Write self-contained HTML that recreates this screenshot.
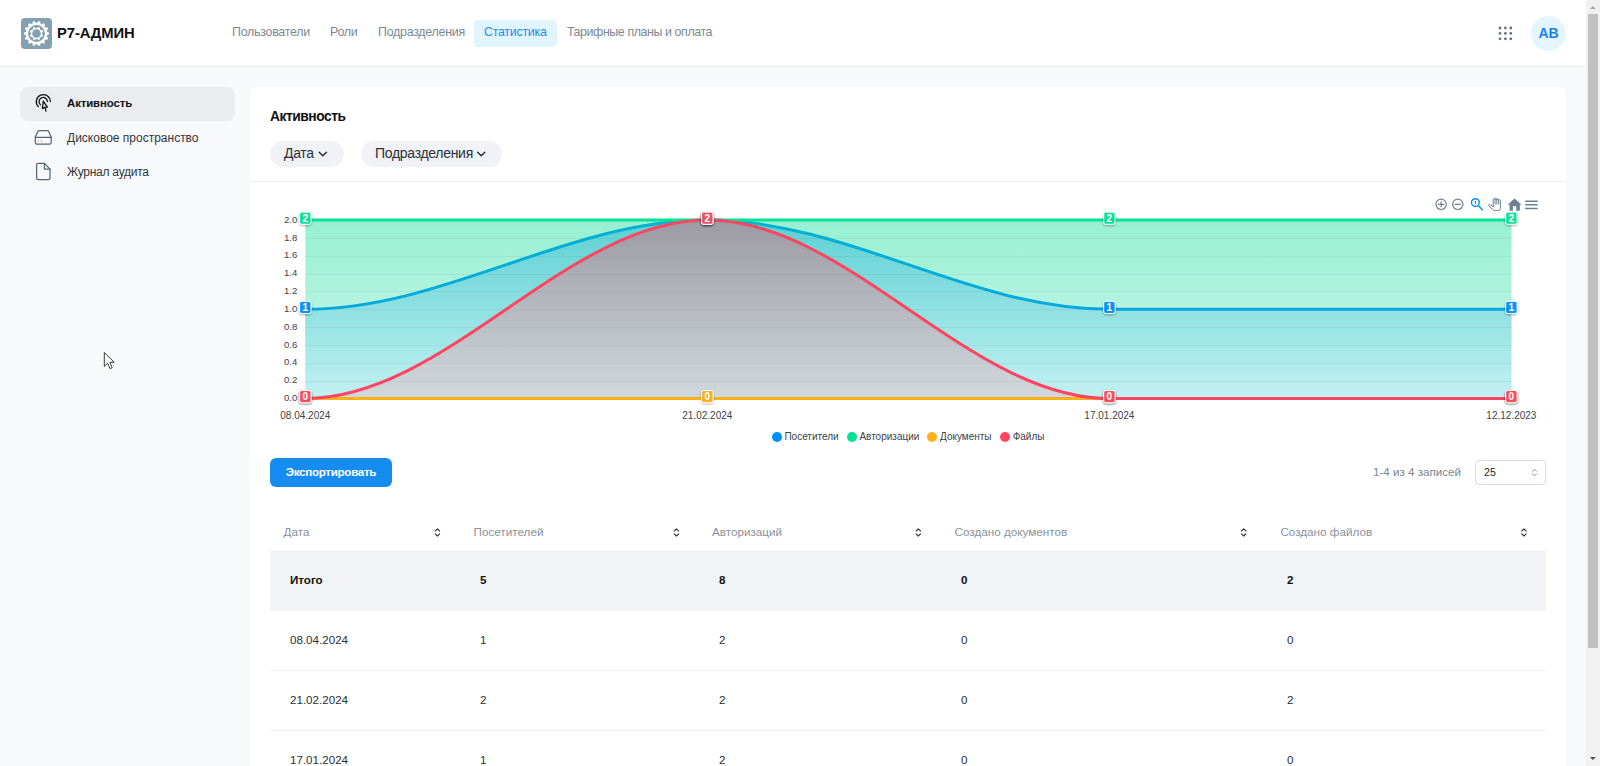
<!DOCTYPE html>
<html lang="ru">
<head>
<meta charset="utf-8">
<title>Р7-Админ — Статистика</title>
<style>
*{box-sizing:border-box;margin:0;padding:0}
html,body{width:1600px;height:766px;overflow:hidden}
body{font-family:"Liberation Sans",sans-serif;background:#f8f9fb;color:#1f2329;position:relative}
.abs{position:absolute}
.t{position:absolute;white-space:nowrap;line-height:1}
/* header */
#hdr{position:absolute;left:0;top:0;width:1586px;height:67px;background:#fff;border-bottom:1px solid #e8eaee}
#logo{left:21px;top:18px;width:31px;height:31px;background:#84a0b1;border-radius:4px}
#logo svg{display:block}
#brand{left:57px;top:26px;font-size:14.8px;font-weight:700;color:#111;letter-spacing:-0.1px}
.nav{top:26px;font-size:12.4px;color:#7d8792;letter-spacing:-0.25px}
#navact{left:473.5px;top:20px;width:83.5px;height:27px;background:#e1f5fd;border-radius:4px}
#grid9{left:1498px;top:26px;width:16px;height:16px}
#avatar{left:1531px;top:16px;width:35px;height:35px;border-radius:50%;background:#e4f5fd;color:#1283ea;font-weight:700;font-size:14px;text-align:center;line-height:35px}
/* sidebar */
#sact{left:20px;top:87px;width:215px;height:34px;background:#ebecef;border-radius:8px}
.side{left:67px;font-size:12px;color:#31363d;letter-spacing:-0.1px}
/* card */
#card{left:250px;top:87px;width:1316px;height:700px;background:#fff;border-radius:8px}
#title{left:270px;top:110px;font-size:13.8px;font-weight:700;color:#111;letter-spacing:-0.45px}
.pill{position:absolute;top:141px;height:26px;border-radius:13px;background:#f0f2f5}
.ptxt{top:146px;font-size:14px;color:#2b3038;letter-spacing:-0.3px}
#divider{left:250px;top:181px;width:1316px;height:1px;background:#eceef1}
.leg{top:432px;font-size:10px;color:#3d4349}
#exp{left:270px;top:458px;width:122px;height:29px;background:#178cf0;border-radius:6px;color:#fff;font-weight:700;font-size:11.6px;line-height:28px;text-align:center;letter-spacing:-0.3px}
#pginfo{left:1373px;top:466px;font-size:11.6px;color:#7b848e}
#pgsel{left:1475px;top:460px;width:71px;height:25px;border:1px solid #d5dbe1;border-radius:4px;background:#fff;font-size:11px;color:#1f2329}
#pgsel span{position:absolute;left:8px;top:6px;line-height:1;font-size:10.6px}
.th{top:526px;font-size:11.7px;color:#8a929b}
.td{font-size:11.6px;color:#2a2f36}
.td.b{font-weight:700;color:#111}
.rowb{left:270px;width:1276px;height:1px;background:#eef0f3}
/* scrollbar */
#sb{left:1586px;top:0;width:14px;height:766px;background:#f1f1f1}
#sbthumb{left:1588px;top:14px;width:10px;height:634px;background:#c1c1c1}
</style>
</head>
<body>
<div id="hdr"></div>
<div class="abs" id="logo">
<svg width="31" height="31" viewBox="0 0 31 31">
 <path fill="#fff" d="M28.00,15.50 L27.99,15.78 L27.97,16.06 L27.92,16.34 L27.71,16.60 L27.03,16.80 L26.34,16.97 L26.12,17.18 L26.04,17.41 L25.99,17.65 L25.94,17.88 L25.88,18.12 L25.83,18.35 L25.80,18.59 L25.91,18.88 L26.45,19.33 L26.97,19.81 L27.05,20.13 L26.98,20.41 L26.88,20.67 L26.76,20.92 L26.63,21.17 L26.50,21.42 L26.33,21.64 L26.02,21.79 L25.32,21.67 L24.63,21.53 L24.34,21.62 L24.17,21.80 L24.02,21.99 L23.87,22.17 L23.72,22.36 L23.57,22.55 L23.44,22.75 L23.41,23.06 L23.70,23.70 L23.97,24.36 L23.90,24.69 L23.72,24.90 L23.51,25.09 L23.29,25.27 L23.07,25.44 L22.84,25.60 L22.59,25.73 L22.25,25.73 L21.67,25.32 L21.11,24.89 L20.81,24.85 L20.58,24.93 L20.36,25.04 L20.14,25.14 L19.93,25.25 L19.71,25.35 L19.50,25.48 L19.35,25.75 L19.33,26.45 L19.29,27.16 L19.08,27.42 L18.82,27.54 L18.55,27.62 L18.28,27.68 L18.01,27.74 L17.73,27.79 L17.45,27.80 L17.15,27.65 L16.80,27.03 L16.48,26.40 L16.22,26.23 L15.98,26.20 L15.74,26.20 L15.50,26.20 L15.26,26.20 L15.02,26.20 L14.78,26.23 L14.52,26.40 L14.20,27.03 L13.85,27.65 L13.55,27.80 L13.27,27.79 L12.99,27.74 L12.72,27.68 L12.45,27.62 L12.18,27.54 L11.92,27.42 L11.71,27.16 L11.67,26.45 L11.65,25.75 L11.50,25.48 L11.29,25.35 L11.07,25.25 L10.86,25.14 L10.64,25.04 L10.42,24.93 L10.19,24.85 L9.89,24.89 L9.33,25.32 L8.75,25.73 L8.41,25.73 L8.16,25.60 L7.93,25.44 L7.71,25.27 L7.49,25.09 L7.28,24.90 L7.10,24.69 L7.03,24.36 L7.30,23.70 L7.59,23.06 L7.56,22.75 L7.43,22.55 L7.28,22.36 L7.13,22.17 L6.98,21.99 L6.83,21.80 L6.66,21.62 L6.37,21.53 L5.68,21.67 L4.98,21.79 L4.67,21.64 L4.50,21.42 L4.37,21.17 L4.24,20.92 L4.12,20.67 L4.02,20.41 L3.95,20.13 L4.03,19.81 L4.55,19.33 L5.09,18.88 L5.20,18.59 L5.17,18.35 L5.12,18.12 L5.06,17.88 L5.01,17.65 L4.96,17.41 L4.88,17.18 L4.66,16.97 L3.97,16.80 L3.29,16.60 L3.08,16.34 L3.03,16.06 L3.01,15.78 L3.00,15.50 L3.01,15.22 L3.03,14.94 L3.08,14.66 L3.29,14.40 L3.97,14.20 L4.66,14.03 L4.88,13.82 L4.96,13.59 L5.01,13.35 L5.06,13.12 L5.12,12.88 L5.17,12.65 L5.20,12.41 L5.09,12.12 L4.55,11.67 L4.03,11.19 L3.95,10.87 L4.02,10.59 L4.12,10.33 L4.24,10.08 L4.37,9.83 L4.50,9.58 L4.67,9.36 L4.98,9.21 L5.68,9.33 L6.37,9.47 L6.66,9.38 L6.83,9.20 L6.98,9.01 L7.13,8.83 L7.28,8.64 L7.43,8.45 L7.56,8.25 L7.59,7.94 L7.30,7.30 L7.03,6.64 L7.10,6.31 L7.28,6.10 L7.49,5.91 L7.71,5.73 L7.93,5.56 L8.16,5.40 L8.41,5.27 L8.75,5.27 L9.33,5.68 L9.89,6.11 L10.19,6.15 L10.42,6.07 L10.64,5.96 L10.86,5.86 L11.07,5.75 L11.29,5.65 L11.50,5.52 L11.65,5.25 L11.67,4.55 L11.71,3.84 L11.92,3.58 L12.18,3.46 L12.45,3.38 L12.72,3.32 L12.99,3.26 L13.27,3.21 L13.55,3.20 L13.85,3.35 L14.20,3.97 L14.52,4.60 L14.78,4.77 L15.02,4.80 L15.26,4.80 L15.50,4.80 L15.74,4.80 L15.98,4.80 L16.22,4.77 L16.48,4.60 L16.80,3.97 L17.15,3.35 L17.45,3.20 L17.73,3.21 L18.01,3.26 L18.28,3.32 L18.55,3.38 L18.82,3.46 L19.08,3.58 L19.29,3.84 L19.33,4.55 L19.35,5.25 L19.50,5.52 L19.71,5.65 L19.93,5.75 L20.14,5.86 L20.36,5.96 L20.58,6.07 L20.81,6.15 L21.11,6.11 L21.67,5.68 L22.25,5.27 L22.59,5.27 L22.84,5.40 L23.07,5.56 L23.29,5.73 L23.51,5.91 L23.72,6.10 L23.90,6.31 L23.97,6.64 L23.70,7.30 L23.41,7.94 L23.44,8.25 L23.57,8.45 L23.72,8.64 L23.87,8.83 L24.02,9.01 L24.17,9.20 L24.34,9.38 L24.63,9.47 L25.32,9.33 L26.02,9.21 L26.33,9.36 L26.50,9.58 L26.63,9.83 L26.76,10.08 L26.88,10.33 L26.98,10.59 L27.05,10.87 L26.97,11.19 L26.45,11.67 L25.91,12.12 L25.80,12.41 L25.83,12.65 L25.88,12.88 L25.94,13.12 L25.99,13.35 L26.04,13.59 L26.12,13.82 L26.34,14.03 L27.03,14.20 L27.71,14.40 L27.92,14.66 L27.97,14.94 L27.99,15.22 Z"/>
 <circle cx="15.5" cy="15.5" r="8.4" fill="#84a0b1"/>
 <path fill="#fff" d="M21.00,15.50 L21.00,15.62 L21.00,15.75 L21.00,15.87 L20.99,15.99 L21.00,16.12 L21.02,16.25 L21.11,16.39 L21.31,16.55 L21.61,16.75 L21.87,16.95 L21.98,17.13 L22.01,17.30 L21.99,17.45 L21.96,17.60 L21.91,17.74 L21.86,17.89 L21.81,18.03 L21.75,18.17 L21.69,18.31 L21.62,18.45 L21.55,18.58 L21.47,18.71 L21.37,18.83 L21.24,18.93 L21.03,18.97 L20.71,18.94 L20.35,18.86 L20.09,18.84 L19.93,18.88 L19.82,18.95 L19.73,19.03 L19.65,19.12 L19.56,19.21 L19.48,19.30 L19.39,19.39 L19.30,19.48 L19.21,19.56 L19.12,19.65 L19.03,19.73 L18.95,19.82 L18.88,19.93 L18.84,20.09 L18.86,20.35 L18.94,20.71 L18.97,21.03 L18.93,21.24 L18.83,21.37 L18.71,21.47 L18.58,21.55 L18.45,21.62 L18.31,21.69 L18.17,21.75 L18.03,21.81 L17.89,21.86 L17.74,21.91 L17.60,21.96 L17.45,21.99 L17.30,22.01 L17.13,21.98 L16.95,21.87 L16.75,21.61 L16.55,21.31 L16.39,21.11 L16.25,21.02 L16.12,21.00 L15.99,20.99 L15.87,21.00 L15.75,21.00 L15.62,21.00 L15.50,21.00 L15.38,21.00 L15.25,21.00 L15.13,21.00 L15.01,20.99 L14.88,21.00 L14.75,21.02 L14.61,21.11 L14.45,21.31 L14.25,21.61 L14.05,21.87 L13.87,21.98 L13.70,22.01 L13.55,21.99 L13.40,21.96 L13.26,21.91 L13.11,21.86 L12.97,21.81 L12.83,21.75 L12.69,21.69 L12.55,21.62 L12.42,21.55 L12.29,21.47 L12.17,21.37 L12.07,21.24 L12.03,21.03 L12.06,20.71 L12.14,20.35 L12.16,20.09 L12.12,19.93 L12.05,19.82 L11.97,19.73 L11.88,19.65 L11.79,19.56 L11.70,19.48 L11.61,19.39 L11.52,19.30 L11.44,19.21 L11.35,19.12 L11.27,19.03 L11.18,18.95 L11.07,18.88 L10.91,18.84 L10.65,18.86 L10.29,18.94 L9.97,18.97 L9.76,18.93 L9.63,18.83 L9.53,18.71 L9.45,18.58 L9.38,18.45 L9.31,18.31 L9.25,18.17 L9.19,18.03 L9.14,17.89 L9.09,17.74 L9.04,17.60 L9.01,17.45 L8.99,17.30 L9.02,17.13 L9.13,16.95 L9.39,16.75 L9.69,16.55 L9.89,16.39 L9.98,16.25 L10.00,16.12 L10.01,15.99 L10.00,15.87 L10.00,15.75 L10.00,15.62 L10.00,15.50 L10.00,15.38 L10.00,15.25 L10.00,15.13 L10.01,15.01 L10.00,14.88 L9.98,14.75 L9.89,14.61 L9.69,14.45 L9.39,14.25 L9.13,14.05 L9.02,13.87 L8.99,13.70 L9.01,13.55 L9.04,13.40 L9.09,13.26 L9.14,13.11 L9.19,12.97 L9.25,12.83 L9.31,12.69 L9.38,12.55 L9.45,12.42 L9.53,12.29 L9.63,12.17 L9.76,12.07 L9.97,12.03 L10.29,12.06 L10.65,12.14 L10.91,12.16 L11.07,12.12 L11.18,12.05 L11.27,11.97 L11.35,11.88 L11.44,11.79 L11.52,11.70 L11.61,11.61 L11.70,11.52 L11.79,11.44 L11.88,11.35 L11.97,11.27 L12.05,11.18 L12.12,11.07 L12.16,10.91 L12.14,10.65 L12.06,10.29 L12.03,9.97 L12.07,9.76 L12.17,9.63 L12.29,9.53 L12.42,9.45 L12.55,9.38 L12.69,9.31 L12.83,9.25 L12.97,9.19 L13.11,9.14 L13.26,9.09 L13.40,9.04 L13.55,9.01 L13.70,8.99 L13.87,9.02 L14.05,9.13 L14.25,9.39 L14.45,9.69 L14.61,9.89 L14.75,9.98 L14.88,10.00 L15.01,10.01 L15.13,10.00 L15.25,10.00 L15.38,10.00 L15.50,10.00 L15.62,10.00 L15.75,10.00 L15.87,10.00 L15.99,10.01 L16.12,10.00 L16.25,9.98 L16.39,9.89 L16.55,9.69 L16.75,9.39 L16.95,9.13 L17.13,9.02 L17.30,8.99 L17.45,9.01 L17.60,9.04 L17.74,9.09 L17.89,9.14 L18.03,9.19 L18.17,9.25 L18.31,9.31 L18.45,9.38 L18.58,9.45 L18.71,9.53 L18.83,9.63 L18.93,9.76 L18.97,9.97 L18.94,10.29 L18.86,10.65 L18.84,10.91 L18.88,11.07 L18.95,11.18 L19.03,11.27 L19.12,11.35 L19.21,11.44 L19.30,11.52 L19.39,11.61 L19.48,11.70 L19.56,11.79 L19.65,11.88 L19.73,11.97 L19.82,12.05 L19.93,12.12 L20.09,12.16 L20.35,12.14 L20.71,12.06 L21.03,12.03 L21.24,12.07 L21.37,12.17 L21.47,12.29 L21.55,12.42 L21.62,12.55 L21.69,12.69 L21.75,12.83 L21.81,12.97 L21.86,13.11 L21.91,13.26 L21.96,13.40 L21.99,13.55 L22.01,13.70 L21.98,13.87 L21.87,14.05 L21.61,14.25 L21.31,14.45 L21.11,14.61 L21.02,14.75 L21.00,14.88 L20.99,15.01 L21.00,15.13 L21.00,15.25 L21.00,15.38 Z"/>
 <circle cx="15.5" cy="15.5" r="4.3" fill="#84a0b1"/>
</svg>
</div>
<div class="t" id="brand">Р7-АДМИН</div>
<div class="abs" id="navact"></div>
<div class="t nav" style="left:232px">Пользователи</div>
<div class="t nav" style="left:330px">Роли</div>
<div class="t nav" style="left:378px">Подразделения</div>
<div class="t nav" style="left:484px;color:#1b8cf0">Статистика</div>
<div class="t nav" style="left:567px;letter-spacing:-0.4px">Тарифные планы и оплата</div>
<svg class="abs" id="grid9" viewBox="0 0 16 16">
 <g fill="#67717d">
  <circle cx="2" cy="2" r="1.4"/><circle cx="7.4" cy="2" r="1.4"/><circle cx="12.8" cy="2" r="1.4"/>
  <circle cx="2" cy="7.4" r="1.4"/><circle cx="7.4" cy="7.4" r="1.4"/><circle cx="12.8" cy="7.4" r="1.4"/>
  <circle cx="2" cy="12.8" r="1.4"/><circle cx="7.4" cy="12.8" r="1.4"/><circle cx="12.8" cy="12.8" r="1.4"/>
 </g>
</svg>
<div class="abs" id="avatar">AB</div>

<!-- sidebar -->
<div class="abs" id="sact"></div>
<div class="t side" style="top:98px;font-weight:700;color:#111;font-size:11.4px">Активность</div>
<div class="t side" style="top:132px;letter-spacing:0">Дисковое пространство</div>
<div class="t side" style="top:166px;letter-spacing:-0.25px">Журнал аудита</div>

<svg class="abs" style="left:0;top:0" width="250" height="400" viewBox="0 0 250 400">
 <g fill="none" stroke="#111" stroke-width="1.3" stroke-linecap="round" stroke-linejoin="round">
  <path d="M38.4,106.6 A7,7 0 1 1 50.3,101.6"/>
  <path d="M40.4,104.8 A4.2,4.2 0 1 1 47.4,101.6"/>
  <path d="M43.3,101.2 L42.4,108.6 L44.6,107.4 L47.4,107.2 Z"/>
  <path d="M45.2,107.6 L45.9,111.2"/>
 </g>
 <g fill="none" stroke="#56647a" stroke-width="1.25" stroke-linecap="round" stroke-linejoin="round">
  <path d="M39.4,130.6 L47.4,130.6 Q48.2,130.6 48.6,131.4 L51.2,137 L51.2,142.6 Q51.2,144.2 49.6,144.2 L36.9,144.2 Q35.3,144.2 35.3,142.6 L35.3,137 L37.9,131.4 Q38.4,130.6 39.4,130.6 Z"/>
  <path d="M35.3,137.3 L51.2,137.3"/>
  <path d="M38.3,141 L38.4,141 M41.6,141 L41.7,141" stroke="#a3acb8" stroke-width="1.3"/>
  <path d="M44.4,163.4 L38.2,163.4 Q36.6,163.4 36.6,165 L36.6,178 Q36.6,179.6 38.2,179.6 L48.4,179.6 Q50,179.6 50,178 L50,169.1 Z"/>
  <path d="M44.4,163.4 L44.4,169.1 L50,169.1"/>
 </g>
 <!-- mouse cursor -->
 <path d="M104.3,352.6 L104.3,366.4 L107.6,363.2 L110,368.6 L112.2,367.7 L109.9,362.4 L114.2,362.2 Z" fill="#fff" stroke="#222" stroke-width="0.9" stroke-linejoin="round"/>
</svg>

<!-- card -->
<div class="abs" id="card"></div>
<div class="t" id="title">Активность</div>
<div class="pill" style="left:270px;width:74px"></div>
<div class="t ptxt" style="left:284px">Дата</div>
<div class="pill" style="left:361px;width:141px"></div>
<div class="t ptxt" style="left:375px">Подразделения</div>
<div class="abs" id="divider"></div>
<svg class="abs" style="left:0;top:0" width="600" height="200" viewBox="0 0 600 200">
 <g fill="none" stroke="#2b3038" stroke-width="1.5" stroke-linecap="round" stroke-linejoin="round">
  <path d="M319.2,152.2 L322.8,155.8 L326.4,152.2"/>
  <path d="M477.6,152.2 L481.2,155.8 L484.8,152.2"/>
 </g>
</svg>

<!--CHART-->
<svg class="abs" style="left:0;top:0" width="1600" height="766" viewBox="0 0 1600 766">
<defs>
<linearGradient id="gG" gradientUnits="userSpaceOnUse" x1="0" y1="220" x2="0" y2="398.5"><stop offset="0" stop-color="rgb(150, 240, 210)"/><stop offset="1" stop-color="rgb(211, 247, 237)"/></linearGradient>
<linearGradient id="gB" gradientUnits="userSpaceOnUse" x1="0" y1="220" x2="0" y2="398.5"><stop offset="0" stop-color="rgb(92, 208, 210)"/><stop offset="1" stop-color="rgb(195, 241, 242)"/></linearGradient>
<linearGradient id="gR" gradientUnits="userSpaceOnUse" x1="0" y1="220" x2="0" y2="398.5"><stop offset="0" stop-color="rgb(156, 154, 164)"/><stop offset="1" stop-color="rgb(209, 217, 221)"/></linearGradient>
<linearGradient id="gBL" gradientUnits="userSpaceOnUse" x1="0" y1="220" x2="0" y2="398.5"><stop offset="0" stop-color="rgb(0, 177, 211)"/><stop offset="1" stop-color="rgb(0, 159, 232)"/></linearGradient>
<filter id="ds" x="-50%" y="-50%" width="200%" height="200%"><feDropShadow dx="0" dy="1" stdDeviation="0.8" flood-color="#000" flood-opacity="0.35"/></filter>
</defs>
<path d="M305.3,220.1 C446.0,220.1 566.6,220.1 707.3,220.1 C848.0,220.1 968.7,220.1 1109.4,220.1 C1250.1,220.1 1370.7,220.1 1511.4,220.1 L1511.4,398.5 L305.3,398.5 Z" fill="url(#gG)"/>
<path d="M305.3,309.3 C446.0,309.3 566.6,220.1 707.3,220.1 C848.0,220.1 968.7,309.3 1109.4,309.3 C1250.1,309.3 1370.7,309.3 1511.4,309.3 L1511.4,398.5 L305.3,398.5 Z" fill="url(#gB)"/>
<g stroke="rgba(60,70,80,0.07)" stroke-width="1"><line x1="305.3" x2="1511.4" y1="381.5" y2="381.5"/><line x1="305.3" x2="1511.4" y1="363.5" y2="363.5"/><line x1="305.3" x2="1511.4" y1="345.5" y2="345.5"/><line x1="305.3" x2="1511.4" y1="327.5" y2="327.5"/><line x1="305.3" x2="1511.4" y1="309.5" y2="309.5"/><line x1="305.3" x2="1511.4" y1="291.5" y2="291.5"/><line x1="305.3" x2="1511.4" y1="274.5" y2="274.5"/><line x1="305.3" x2="1511.4" y1="256.5" y2="256.5"/><line x1="305.3" x2="1511.4" y1="238.5" y2="238.5"/></g>
<clipPath id="cR"><path d="M305.3,398.5 C446.0,398.5 566.6,220.1 707.3,220.1 C848.0,220.1 968.7,398.5 1109.4,398.5 C1250.1,398.5 1370.7,398.5 1511.4,398.5 L1511.4,398.5 L305.3,398.5 Z"/></clipPath>
<path d="M305.3,398.5 C446.0,398.5 566.6,220.1 707.3,220.1 C848.0,220.1 968.7,398.5 1109.4,398.5 C1250.1,398.5 1370.7,398.5 1511.4,398.5 L1511.4,398.5 L305.3,398.5 Z" fill="url(#gR)"/>
<g stroke="rgba(60,70,80,0.04)" stroke-width="1" clip-path="url(#cR)"><line x1="305.3" x2="1511.4" y1="381.5" y2="381.5"/><line x1="305.3" x2="1511.4" y1="363.5" y2="363.5"/><line x1="305.3" x2="1511.4" y1="345.5" y2="345.5"/><line x1="305.3" x2="1511.4" y1="327.5" y2="327.5"/><line x1="305.3" x2="1511.4" y1="309.5" y2="309.5"/><line x1="305.3" x2="1511.4" y1="291.5" y2="291.5"/><line x1="305.3" x2="1511.4" y1="274.5" y2="274.5"/><line x1="305.3" x2="1511.4" y1="256.5" y2="256.5"/><line x1="305.3" x2="1511.4" y1="238.5" y2="238.5"/></g>
<path d="M305.3,309.3 C446.0,309.3 566.6,220.1 707.3,220.1 C848.0,220.1 968.7,309.3 1109.4,309.3 C1250.1,309.3 1370.7,309.3 1511.4,309.3" fill="none" stroke="url(#gBL)" stroke-width="3" stroke-linecap="butt"/>
<path d="M305.3,220.1 C446.0,220.1 566.6,220.1 707.3,220.1 C848.0,220.1 968.7,220.1 1109.4,220.1 C1250.1,220.1 1370.7,220.1 1511.4,220.1" fill="none" stroke="#00E396" stroke-width="3" stroke-linecap="butt"/>
<path d="M305.3,398.5 C446.0,398.5 566.6,398.5 707.3,398.5 C848.0,398.5 968.7,398.5 1109.4,398.5 C1250.1,398.5 1370.7,398.5 1511.4,398.5" fill="none" stroke="#FEB019" stroke-width="3" stroke-linecap="butt"/>
<path d="M305.3,398.5 C446.0,398.5 566.6,220.1 707.3,220.1 C848.0,220.1 968.7,398.5 1109.4,398.5 C1250.1,398.5 1370.7,398.5 1511.4,398.5" fill="none" stroke="#FF4560" stroke-width="3" stroke-linecap="butt"/>
<g filter="url(#ds)"><rect x="299.6" y="301.3" width="11.4" height="12.2" rx="2" fill="#008FFB" fill-opacity="0.9" stroke="#fff" stroke-width="1"/></g><text x="305.3" y="311.0" text-anchor="middle" font-family="Liberation Sans" font-weight="700" font-size="10" fill="#fff">1</text><g filter="url(#ds)"><rect x="299.6" y="212.1" width="11.4" height="12.2" rx="2" fill="#00E396" fill-opacity="0.9" stroke="#fff" stroke-width="1"/></g><text x="305.3" y="221.8" text-anchor="middle" font-family="Liberation Sans" font-weight="700" font-size="10" fill="#fff">2</text><g filter="url(#ds)"><rect x="299.6" y="390.5" width="11.4" height="12.2" rx="2" fill="#FEB019" fill-opacity="0.9" stroke="#fff" stroke-width="1"/></g><text x="305.3" y="400.2" text-anchor="middle" font-family="Liberation Sans" font-weight="700" font-size="10" fill="#fff">0</text><g filter="url(#ds)"><rect x="299.6" y="390.5" width="11.4" height="12.2" rx="2" fill="#FF4560" fill-opacity="0.9" stroke="#fff" stroke-width="1"/></g><text x="305.3" y="400.2" text-anchor="middle" font-family="Liberation Sans" font-weight="700" font-size="10" fill="#fff">0</text><g filter="url(#ds)"><rect x="701.6" y="212.1" width="11.4" height="12.2" rx="2" fill="#008FFB" fill-opacity="0.9" stroke="#fff" stroke-width="1"/></g><text x="707.3" y="221.8" text-anchor="middle" font-family="Liberation Sans" font-weight="700" font-size="10" fill="#fff">2</text><g filter="url(#ds)"><rect x="701.6" y="212.1" width="11.4" height="12.2" rx="2" fill="#00E396" fill-opacity="0.9" stroke="#fff" stroke-width="1"/></g><text x="707.3" y="221.8" text-anchor="middle" font-family="Liberation Sans" font-weight="700" font-size="10" fill="#fff">2</text><g filter="url(#ds)"><rect x="701.6" y="390.5" width="11.4" height="12.2" rx="2" fill="#FEB019" fill-opacity="0.9" stroke="#fff" stroke-width="1"/></g><text x="707.3" y="400.2" text-anchor="middle" font-family="Liberation Sans" font-weight="700" font-size="10" fill="#fff">0</text><g filter="url(#ds)"><rect x="701.6" y="212.1" width="11.4" height="12.2" rx="2" fill="#FF4560" fill-opacity="0.9" stroke="#fff" stroke-width="1"/></g><text x="707.3" y="221.8" text-anchor="middle" font-family="Liberation Sans" font-weight="700" font-size="10" fill="#fff">2</text><g filter="url(#ds)"><rect x="1103.7" y="301.3" width="11.4" height="12.2" rx="2" fill="#008FFB" fill-opacity="0.9" stroke="#fff" stroke-width="1"/></g><text x="1109.4" y="311.0" text-anchor="middle" font-family="Liberation Sans" font-weight="700" font-size="10" fill="#fff">1</text><g filter="url(#ds)"><rect x="1103.7" y="212.1" width="11.4" height="12.2" rx="2" fill="#00E396" fill-opacity="0.9" stroke="#fff" stroke-width="1"/></g><text x="1109.4" y="221.8" text-anchor="middle" font-family="Liberation Sans" font-weight="700" font-size="10" fill="#fff">2</text><g filter="url(#ds)"><rect x="1103.7" y="390.5" width="11.4" height="12.2" rx="2" fill="#FEB019" fill-opacity="0.9" stroke="#fff" stroke-width="1"/></g><text x="1109.4" y="400.2" text-anchor="middle" font-family="Liberation Sans" font-weight="700" font-size="10" fill="#fff">0</text><g filter="url(#ds)"><rect x="1103.7" y="390.5" width="11.4" height="12.2" rx="2" fill="#FF4560" fill-opacity="0.9" stroke="#fff" stroke-width="1"/></g><text x="1109.4" y="400.2" text-anchor="middle" font-family="Liberation Sans" font-weight="700" font-size="10" fill="#fff">0</text><g filter="url(#ds)"><rect x="1505.7" y="301.3" width="11.4" height="12.2" rx="2" fill="#008FFB" fill-opacity="0.9" stroke="#fff" stroke-width="1"/></g><text x="1511.4" y="311.0" text-anchor="middle" font-family="Liberation Sans" font-weight="700" font-size="10" fill="#fff">1</text><g filter="url(#ds)"><rect x="1505.7" y="212.1" width="11.4" height="12.2" rx="2" fill="#00E396" fill-opacity="0.9" stroke="#fff" stroke-width="1"/></g><text x="1511.4" y="221.8" text-anchor="middle" font-family="Liberation Sans" font-weight="700" font-size="10" fill="#fff">2</text><g filter="url(#ds)"><rect x="1505.7" y="390.5" width="11.4" height="12.2" rx="2" fill="#FEB019" fill-opacity="0.9" stroke="#fff" stroke-width="1"/></g><text x="1511.4" y="400.2" text-anchor="middle" font-family="Liberation Sans" font-weight="700" font-size="10" fill="#fff">0</text><g filter="url(#ds)"><rect x="1505.7" y="390.5" width="11.4" height="12.2" rx="2" fill="#FF4560" fill-opacity="0.9" stroke="#fff" stroke-width="1"/></g><text x="1511.4" y="400.2" text-anchor="middle" font-family="Liberation Sans" font-weight="700" font-size="10" fill="#fff">0</text>
<g font-family="Liberation Sans" font-size="9.6" fill="#3d4349" text-anchor="end"><text x="297.3" y="401.1">0.0</text><text x="297.3" y="383.3">0.2</text><text x="297.3" y="365.4">0.4</text><text x="297.3" y="347.6">0.6</text><text x="297.3" y="329.7">0.8</text><text x="297.3" y="311.9">1.0</text><text x="297.3" y="294.1">1.2</text><text x="297.3" y="276.2">1.4</text><text x="297.3" y="258.4">1.6</text><text x="297.3" y="240.5">1.8</text><text x="297.3" y="222.7">2.0</text></g>
<g font-family="Liberation Sans" font-size="10" fill="#3d4349" text-anchor="middle"><text x="305.3" y="419">08.04.2024</text><text x="707.3" y="419">21.02.2024</text><text x="1109.4" y="419">17.01.2024</text><text x="1511.4" y="419">12.12.2023</text></g>
</svg>
<!--/CHART-->

<!--TOOLBAR-->
<svg class="abs" style="left:1420px;top:190px" width="130" height="30" viewBox="1420 190 130 30">
 <g fill="none" stroke="#6E8192" stroke-width="1.2" stroke-linecap="round">
  <circle cx="1441.1" cy="204.3" r="5.2"/>
  <path d="M1438.4,204.3 L1443.8,204.3 M1441.1,201.8 L1441.1,206.8"/>
  <circle cx="1457.8" cy="204.3" r="5.2"/>
  <path d="M1455.1,204.3 L1460.5,204.3"/>
 </g>
 <g fill="none" stroke="#008FFB" stroke-width="1.4" stroke-linecap="round">
  <circle cx="1475.4" cy="202.6" r="3.9"/>
  <path d="M1478.3,205.6 L1482.4,209.7"/>
  <path d="M1475.4,201.3 L1475.4,203.6" stroke-width="1.1"/>
 </g>
 <g fill="none" stroke="#6E8192" stroke-width="1" stroke-linejoin="round" stroke-linecap="round">
  <path d="M1493.2,206.5 L1493.2,199.6 Q1493.2,198.6 1494.1,198.6 Q1495,198.6 1495,199.6 L1495,199.3 Q1495,198.3 1495.9,198.3 Q1496.8,198.3 1496.8,199.3 L1496.8,199.8 Q1496.8,199 1497.7,199 Q1498.6,199 1498.6,199.9 L1498.6,200.4 Q1498.6,199.7 1499.5,199.7 Q1500.4,199.7 1500.4,200.6 L1500.4,208.6 Q1500.4,210.4 1498.6,210.4 L1494.4,210.4 Q1493.4,210.4 1492.6,209.6 L1488.6,205.6 Q1488.1,205 1488.8,204.6 Q1489.6,204.2 1490.4,204.9 L1493.2,206.5"/>
  <path d="M1495,199.5 L1495,204 M1496.8,199.5 L1496.8,204 M1498.6,200 L1498.6,204"/>
 </g>
 <path fill="#6E8192" d="M1514.5,198.4 L1521.6,204.8 L1519.8,204.8 L1519.8,210.7 L1516.3,210.7 L1516.3,206.2 L1512.9,206.2 L1512.9,210.7 L1509.6,210.7 L1509.6,204.8 L1507.6,204.8 Z"/>
 <g stroke="#6E8192" stroke-width="1.5">
  <path d="M1525.2,201.2 L1537.7,201.2 M1525.2,204.8 L1537.7,204.8 M1525.2,208.5 L1537.7,208.5"/>
 </g>
</svg>
<!--/TOOLBAR-->

<!-- legend -->
<div class="abs" style="left:771.5px;top:431.6px;width:10px;height:10px;border-radius:50%;background:#008FFB"></div>
<div class="t leg" style="left:784.4px">Посетители</div>
<div class="abs" style="left:846.6px;top:431.6px;width:10px;height:10px;border-radius:50%;background:#00E396"></div>
<div class="t leg" style="left:859.4px">Авторизации</div>
<div class="abs" style="left:927.2px;top:431.6px;width:10px;height:10px;border-radius:50%;background:#FEB019"></div>
<div class="t leg" style="left:940px">Документы</div>
<div class="abs" style="left:999.8px;top:431.6px;width:10px;height:10px;border-radius:50%;background:#FF4560"></div>
<div class="t leg" style="left:1012.7px">Файлы</div>

<!-- export + pagination -->
<div class="abs" id="exp">Экспортировать</div>
<div class="t" id="pginfo">1-4 из 4 записей</div>
<div class="abs" id="pgsel"><span>25</span>
<svg class="abs" style="left:54.5px;top:7px" width="7" height="10" viewBox="0 0 7 10"><path d="M1.2,3.6 L3.5,1.3 L5.8,3.6 M1.2,5.6 L3.5,7.9 L5.8,5.6" fill="none" stroke="#8a939d" stroke-width="1"/></svg>
</div>

<!-- table -->
<div class="t th" style="left:283.5px">Дата</div>
<div class="t th" style="left:473.5px">Посетителей</div>
<div class="t th" style="left:712px">Авторизаций</div>
<div class="t th" style="left:954.5px">Создано документов</div>
<div class="t th" style="left:1280.4px">Создано файлов</div>
<svg class="abs" style="left:0;top:0" width="1600" height="766" viewBox="0 0 1600 766">
 <g fill="none" stroke="#2f343b" stroke-width="1.1" stroke-linecap="round" stroke-linejoin="round">
  <path d="M435.2,531 L437.4,528.8 L439.6,531 M435.2,533.8 L437.4,536 L439.6,533.8"/>
  <path d="M674.2,531 L676.4,528.8 L678.6,531 M674.2,533.8 L676.4,536 L678.6,533.8"/>
  <path d="M916.1,531 L918.3,528.8 L920.5,531 M916.1,533.8 L918.3,536 L920.5,533.8"/>
  <path d="M1241.5,531 L1243.7,528.8 L1245.9,531 M1241.5,533.8 L1243.7,536 L1245.9,533.8"/>
  <path d="M1521.7,531 L1523.9,528.8 L1526.1,531 M1521.7,533.8 L1523.9,536 L1526.1,533.8"/>
 </g>
</svg>
<div class="abs" style="left:270px;top:551px;width:1276px;height:60px;background:#f2f3f7;border-top:1px solid #edeef2"></div>
<div class="t td b" style="left:290px;top:574px">Итого</div>
<div class="t td b" style="left:480px;top:574px">5</div>
<div class="t td b" style="left:719px;top:574px">8</div>
<div class="t td b" style="left:961px;top:574px">0</div>
<div class="t td b" style="left:1287px;top:574px">2</div>
<div class="abs rowb" style="top:670px"></div>
<div class="abs rowb" style="top:730px"></div>
<div class="t td" style="left:290px;top:634px">08.04.2024</div>
<div class="t td" style="left:480px;top:634px">1</div>
<div class="t td" style="left:719px;top:634px">2</div>
<div class="t td" style="left:961px;top:634px">0</div>
<div class="t td" style="left:1287px;top:634px">0</div>
<div class="t td" style="left:290px;top:694px">21.02.2024</div>
<div class="t td" style="left:480px;top:694px">2</div>
<div class="t td" style="left:719px;top:694px">2</div>
<div class="t td" style="left:961px;top:694px">0</div>
<div class="t td" style="left:1287px;top:694px">2</div>
<div class="t td" style="left:290px;top:754px">17.01.2024</div>
<div class="t td" style="left:480px;top:754px">1</div>
<div class="t td" style="left:719px;top:754px">2</div>
<div class="t td" style="left:961px;top:754px">0</div>
<div class="t td" style="left:1287px;top:754px">0</div>

<!-- scrollbar -->
<div class="abs" id="sb"></div>
<div class="abs" id="sbthumb"></div>
<svg class="abs" style="left:1586px;top:0" width="14" height="766" viewBox="1586 0 14 766">
 <path d="M1589.9,8.9 L1592.9,5.9 L1595.9,8.9 Z" fill="#a3a3a3"/>
 <path d="M1589.9,756.9 L1592.9,759.9 L1595.9,756.9 Z" fill="#505050"/>
</svg>
</body>
</html>
